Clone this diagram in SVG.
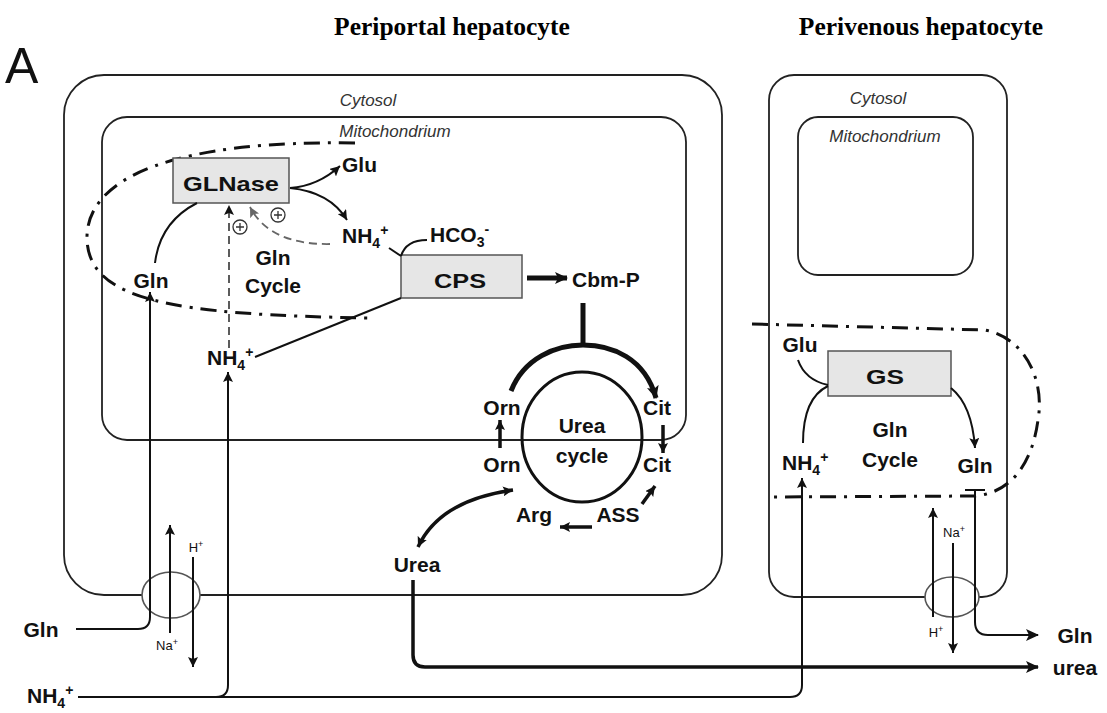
<svg xmlns="http://www.w3.org/2000/svg" width="1107" height="713" viewBox="0 0 1107 713">
<defs>
<style>
.t{font-family:"Liberation Sans",Arial,sans-serif;font-weight:bold;font-size:21px;fill:#111}
.s{font-family:"Liberation Sans",Arial,sans-serif;font-size:13px;fill:#111}
.it{font-family:"Liberation Sans",Arial,sans-serif;font-style:italic;font-size:17px;fill:#333}
.ttl{font-family:"Liberation Serif","Times New Roman",serif;font-weight:bold;font-size:25.5px;fill:#000}
.cell{fill:none;stroke:#222;stroke-width:1.8}
.enz{fill:#e6e6e6;stroke:#555;stroke-width:1.5}
.dd{fill:none;stroke:#111;stroke-width:3;stroke-dasharray:16 8 3 8}
.ln{fill:none;stroke:#111;stroke-width:2}
.th{fill:none;stroke:#111;stroke-width:3.5}
.tk{fill:none;stroke:#111;stroke-width:5}
</style>
<marker id="ah" markerUnits="userSpaceOnUse" markerWidth="14" markerHeight="12" refX="12" refY="6" orient="auto-start-reverse"><path d="M0,0 L13,6 L0,12 L3,6 Z" fill="#111"/></marker>
<marker id="as" markerUnits="userSpaceOnUse" markerWidth="11" markerHeight="10" refX="10" refY="5" orient="auto-start-reverse"><path d="M0,0 L10,5 L0,10 L2,5 Z" fill="#111"/></marker>
<marker id="ag" markerUnits="userSpaceOnUse" markerWidth="11" markerHeight="10" refX="10" refY="5" orient="auto"><path d="M0,0 L10,5 L0,10 L2,5 Z" fill="#666"/></marker>
</defs>
<rect width="1107" height="713" fill="#fff"/>
<text x="5" y="83" font-family="Liberation Sans,Arial,sans-serif" font-size="50" fill="#111">A</text>
<text class="ttl" x="452" y="35" text-anchor="middle">Periportal hepatocyte</text>
<text class="ttl" x="921" y="35" text-anchor="middle">Perivenous hepatocyte</text>

<g id="periportal-cell">
<rect class="cell" x="64" y="75" width="658" height="520" rx="40"/>
<text class="it" x="368" y="106" text-anchor="middle">Cytosol</text>
</g>
<g id="periportal-mito">
<rect class="cell" x="102" y="117" width="584" height="323" rx="25"/>
<text class="it" x="395" y="137" text-anchor="middle">Mitochondrium</text>
</g>
<g id="perivenous-cell">
<rect class="cell" x="769" y="75" width="238" height="522" rx="25"/>
<text class="it" x="878" y="104" text-anchor="middle">Cytosol</text>
</g>
<g id="perivenous-mito">
<rect class="cell" x="798" y="117" width="175" height="158" rx="20"/>
<text class="it" x="885" y="142" text-anchor="middle">Mitochondrium</text>
</g>

<g id="gln-cycle-periportal">
<path class="dd" d="M355 143 C180 140 85 175 87 240 C90 300 170 315 372 318"/>
<text class="t" x="273" y="265" text-anchor="middle">Gln</text>
<text class="t" x="273" y="293" text-anchor="middle">Cycle</text>
</g>
<g id="gln-cycle-perivenous">
<path class="dd" d="M752 324 L985 330 C1025 338 1045 380 1038 420 C1032 465 1010 493 975 496 L773 497"/>
<text class="t" x="890" y="437" text-anchor="middle">Gln</text>
<text class="t" x="890" y="467" text-anchor="middle">Cycle</text>
</g>

<g id="transporter-left">
<ellipse cx="171" cy="595" rx="29" ry="23" fill="#fff" stroke="#555" stroke-width="1.6"/>
</g>
<g id="transporter-right">
<ellipse cx="952" cy="597" rx="27" ry="20" fill="#fff" stroke="#555" stroke-width="1.6"/>
</g>

<g id="GLNase"><rect class="enz" x="173" y="158" width="116" height="45"/><text class="t" x="231" y="191" text-anchor="middle" font-size="28" textLength="96" lengthAdjust="spacingAndGlyphs">GLNase</text></g>
<g id="CPS"><rect class="enz" x="401" y="255" width="121" height="43"/><text class="t" x="460" y="288" text-anchor="middle" font-size="30" textLength="52" lengthAdjust="spacingAndGlyphs">CPS</text></g>
<g id="GS"><rect class="enz" x="828" y="351" width="123" height="45"/><text class="t" x="885" y="384" text-anchor="middle" font-size="28" textLength="38" lengthAdjust="spacingAndGlyphs">GS</text></g>

<g id="urea-cycle">
<ellipse cx="582" cy="437" rx="60" ry="65" fill="none" stroke="#111" stroke-width="3"/>
<text class="t" x="582" y="433" text-anchor="middle">Urea</text>
<text class="t" x="582" y="463" text-anchor="middle">cycle</text>
</g>

<g id="labels">
<text class="t" x="342" y="172">Glu</text>
<text class="t" x="342" y="243">NH<tspan font-size="14" dy="5">4</tspan><tspan font-size="14" dy="-13">+</tspan></text>
<text class="t" x="430" y="242">HCO<tspan font-size="14" dy="5">3</tspan><tspan font-size="14" dy="-13">-</tspan></text>
<text class="t" x="572" y="287">Cbm-P</text>
<text class="t" x="151" y="288" text-anchor="middle">Gln</text>
<text class="t" x="207" y="365">NH<tspan font-size="14" dy="5">4</tspan><tspan font-size="14" dy="-13">+</tspan></text>
<text class="t" x="502" y="415" text-anchor="middle">Orn</text>
<text class="t" x="502" y="472" text-anchor="middle">Orn</text>
<text class="t" x="657" y="415" text-anchor="middle">Cit</text>
<text class="t" x="657" y="472" text-anchor="middle">Cit</text>
<text class="t" x="534" y="522" text-anchor="middle">Arg</text>
<text class="t" x="618" y="522" text-anchor="middle">ASS</text>
<text class="t" x="417" y="572" text-anchor="middle">Urea</text>
<text class="t" x="41" y="637" text-anchor="middle">Gln</text>
<text class="t" x="27" y="703">NH<tspan font-size="14" dy="5">4</tspan><tspan font-size="14" dy="-13">+</tspan></text>
<text class="t" x="800" y="352" text-anchor="middle">Glu</text>
<text class="t" x="782" y="470">NH<tspan font-size="14" dy="5">4</tspan><tspan font-size="14" dy="-13">+</tspan></text>
<text class="t" x="975" y="473" text-anchor="middle">Gln</text>
<text class="t" x="1075" y="643" text-anchor="middle">Gln</text>
<text class="t" x="1075" y="675" text-anchor="middle">urea</text>
<text class="s" x="196" y="552" text-anchor="middle">H<tspan font-size="9" dy="-5">+</tspan></text>
<text class="s" x="167" y="650" text-anchor="middle">Na<tspan font-size="9" dy="-5">+</tspan></text>
<text class="s" x="954" y="537" text-anchor="middle">Na<tspan font-size="9" dy="-5">+</tspan></text>
<text class="s" x="936" y="637" text-anchor="middle">H<tspan font-size="9" dy="-5">+</tspan></text>
</g>

<g id="plus-signs" fill="#fff" stroke="#333" stroke-width="1.3">
<circle cx="240" cy="227" r="7"/><path d="M236 227 H244 M240 223 V231"/>
<circle cx="278" cy="215" r="7"/><path d="M274 215 H282 M278 211 V219"/>
</g>

<g id="connectors">
<path class="ln" d="M290 188 Q318 186 340 166" marker-end="url(#as)"/>
<path class="ln" d="M290 188 Q330 192 347 220" marker-end="url(#as)"/>
<path class="ln" d="M155 263 Q160 222 197 203"/>
<path d="M330 244 Q270 245 250 207" fill="none" stroke="#666" stroke-width="1.8" stroke-dasharray="8 5" marker-end="url(#ag)"/>
<path d="M229 348 L229 205" fill="none" stroke="#333" stroke-width="1.6" stroke-dasharray="8 5" marker-end="url(#as)"/>
<path class="ln" d="M389 248 L401 256"/>
<path class="ln" d="M401 256 Q406 240 427 240"/>
<path class="ln" d="M255 357 L401 298"/>
<path class="tk" d="M527 278 L567 278" marker-end="url(#ah)"/>
<path class="tk" d="M583 303 L583 345"/>
<path class="tk" d="M511 391 C524 358 556 345 583 345 C612 345 645 358 656 398" marker-end="url(#ah)"/>
<path class="th" d="M500 448 L500 420" marker-end="url(#as)"/>
<path class="th" d="M663 425 L663 453" marker-end="url(#as)"/>
<path class="th" d="M642 504 L655 486" marker-end="url(#as)"/>
<path class="th" d="M592 527 L560 527" marker-end="url(#as)"/>
<path class="th" d="M418 547 Q440 500 513 490" marker-start="url(#as)" marker-end="url(#as)"/>
<path class="th" d="M413 580 L413 655 Q413 667 425 667 L1038 667" marker-end="url(#ah)"/>
<path class="ln" d="M76 629 L138 629 Q150 629 150 617 L150 292" marker-end="url(#as)"/>
<path class="ln" stroke-width="2.5" d="M78 697 L216 697 Q228 697 228 685 L228 372" marker-end="url(#as)"/>
<path class="ln" stroke-width="2.5" d="M216 697 L790 697 Q802 697 802 685 L802 478" marker-end="url(#as)"/>
<path class="ln" stroke-width="2.5" d="M170 633 L170 525" marker-end="url(#as)"/>
<path class="ln" stroke-width="2.5" d="M193 557 L193 667" marker-end="url(#as)"/>
<path class="ln" d="M798 360 Q805 380 828 385"/>
<path class="ln" d="M803 443 Q803 398 828 386"/>
<path class="ln" d="M951 388 Q972 405 975 448" marker-end="url(#as)"/>
<path class="ln" stroke-width="2.5" d="M965 490 L985 490 M975 490 L975 622 Q975 635 988 635 L1038 635" marker-end="url(#ah)"/>
<path class="ln" stroke-width="2.5" d="M933 617 L933 508" marker-end="url(#as)"/>
<path class="ln" stroke-width="2.5" d="M953 543 L953 653" marker-end="url(#as)"/>
</g>
</svg>
